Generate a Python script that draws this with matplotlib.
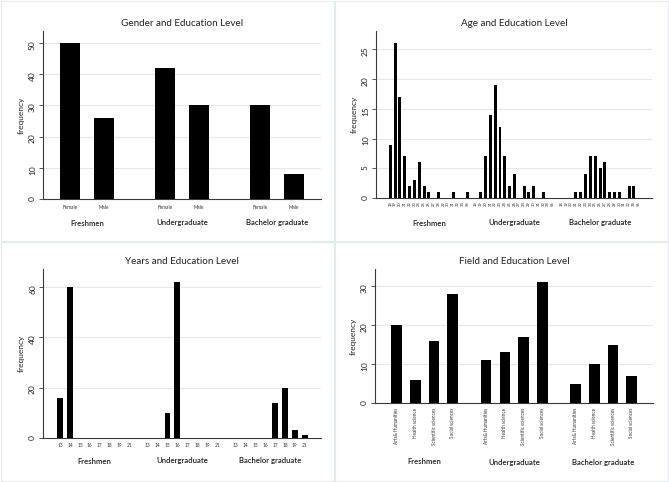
import numpy as np
import matplotlib.pyplot as plt
from matplotlib.patches import Rectangle

plt.rcParams['font.family'] = ['Lato', 'DejaVu Sans']

# Datos
levels = ['Freshmen', 'Undergraduate', 'Bachelor graduate']

genders = ['Female', 'Male']
gender_freq = [[50, 26], [42, 30], [30, 8]]

ages = ['18', '19', '20', '21', '22', '23', '24', '25', '26', '27', '28',
        '29', '30', '31', '32', '34', '56']
age_freq = [[9, 26, 17, 7, 2, 3, 6, 2, 1, 0, 1, 0, 0, 1, 0, 0, 1],
            [0, 1, 7, 14, 19, 12, 7, 2, 4, 0, 2, 1, 2, 0, 1, 0, 0],
            [0, 0, 0, 1, 1, 4, 7, 7, 5, 6, 1, 1, 1, 0, 2, 2, 0]]

years = ['13', '14', '15', '16', '17', '18', '19', '21']
years_freq = [[16, 60, 0, 0, 0, 0, 0, 0],
              [0, 0, 10, 62, 0, 0, 0, 0],
              [0, 0, 0, 0, 14, 20, 3, 1]]

fields = ['Arts& Humanities', 'Health science', 'Scientific sciences', 'Social sciences']
field_freq = [[20, 6, 16, 28], [11, 13, 17, 31], [5, 10, 15, 7]]

W, H = 669, 482
fig = plt.figure(figsize=(W / 100, H / 100), dpi=100)

# Bordes de los cuatro paneles
for (x0, y0, x1, y1) in [(1, 1, 334, 241), (335, 1, 668, 241),
                         (1, 242, 334, 481), (335, 242, 668, 481)]:
    fig.patches.append(Rectangle((x0 / W, 1 - y1 / H), (x1 - x0) / W, (y1 - y0) / H,
                                 transform=fig.transFigure, fill=False,
                                 edgecolor='#e3ebee', linewidth=0.8))

grid_color = '#dfeaee'
axis_color = '#3a3a3a'


def panel(px, title, cats, freq, group_step, bar_w, xlim, ylim, yticks,
          tick_rot, tick_size, tick_off, group_off, tick_va='top'):
    left, top, right, bottom = px
    ax = fig.add_axes([left / W, 1 - bottom / H, (right - left) / W, (bottom - top) / H])
    n = len(cats)
    pos, labs = [], []
    for g, vals in enumerate(freq):
        x = g * group_step + np.arange(n)
        ax.bar(x, vals, width=bar_w, color='black', linewidth=0, zorder=3)
        pos += list(x)
        labs += cats
        ax.annotate(levels[g], xy=(g * group_step + (n - 1) / 2, 0),
                    xycoords=('data', 'axes fraction'), xytext=(0, -group_off),
                    textcoords='offset pixels', ha='center', va='center',
                    fontsize=5.6, fontweight='semibold', color='#222222')
    ax.set_xlim(*xlim)
    ax.set_ylim(*ylim)
    ax.set_yticks(yticks)
    ax.set_xticks([])
    for p, l in zip(pos, labs):
        ax.annotate(l, xy=(p, 0), xycoords=('data', 'axes fraction'),
                    xytext=(0, -tick_off), textcoords='offset pixels',
                    ha='center', va=tick_va, rotation=tick_rot,
                    fontsize=tick_size, color='#333333')
    for t in yticks:
        if t > 0:
            ax.axhline(t, color=grid_color, linewidth=0.8, zorder=1)
    for s in ['top', 'right']:
        ax.spines[s].set_visible(False)
    for s in ['left', 'bottom']:
        ax.spines[s].set_color(axis_color)
        ax.spines[s].set_linewidth(0.8)
    ax.tick_params(axis='y', labelrotation=90, length=3, width=0.6,
                   color=axis_color, labelsize=6, pad=2, labelcolor='#222222')
    ax.set_ylabel('frequency', fontsize=6, color='#222222', labelpad=3)
    ax.annotate(title, xy=(0.5, 1), xycoords='axes fraction', xytext=(0, 8),
                textcoords='offset pixels', ha='center', va='center',
                fontsize=7.1, color='#222222')
    return ax


panel((43, 31, 321, 199), 'Gender and Education Level', genders, gender_freq,
      95 / 34, 0.59, (-27 / 34, 251 / 34), (0, 53.8), [0, 10, 20, 30, 40, 50],
      0, 3.4, 6, 24)

panel((376, 31, 652, 198), 'Age and Education Level', ages, age_freq,
      17.72, 0.62, (-2.96, 54.2), (0, 28.1), [0, 5, 10, 15, 20, 25],
      90, 3.0, 3, 25)

panel((43, 269, 321, 438), 'Years and Education Level', years, years_freq,
      8.83, 0.6, (-1.72, 26.3), (0, 67.2), [0, 20, 40, 60],
      0, 3.4, 5, 23)

panel((375, 269, 653, 403), 'Field and Education Level', fields, field_freq,
      4.79, 0.57, (-1.16, 13.72), (0, 34.4), [0, 10, 20, 30],
      90, 3.3, 5, 59)

fig.savefig('out.png', dpi=100, facecolor='white')
